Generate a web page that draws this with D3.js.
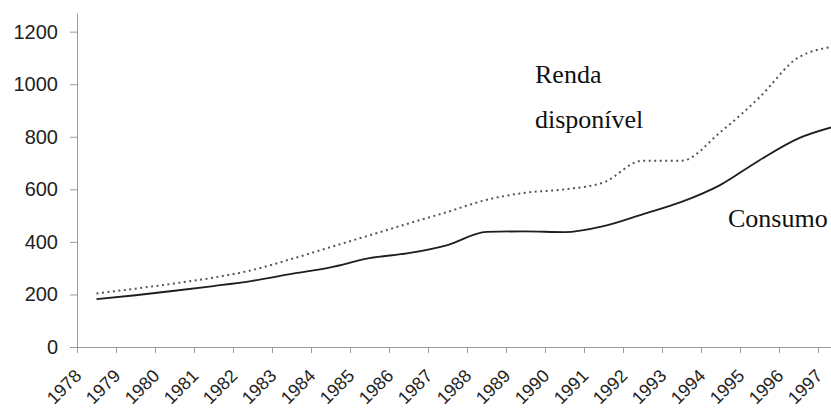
<!DOCTYPE html>
<html>
<head>
<meta charset="utf-8">
<script src="https://cdn.jsdelivr.net/npm/d3@7"></script>
<style>
    body { margin: 0; background: #fff; }
</style>
</head>
<body>
<div id="chart"></div>
<script>
var years =   [1978, 1979, 1980, 1981, 1982, 1983, 1984, 1985, 1986, 1987,
               1988, 1989, 1990, 1991, 1992, 1993, 1994, 1995, 1996, 1997];
var consumo = [182, 197, 214, 232, 252, 278, 303, 338, 357, 388,
               438, 440, 437, 460, 505, 552, 617, 711, 794, 842];
var renda =   [204, 222, 242, 264, 293, 335, 380, 425, 470, 514,
               560, 587, 600, 626, 709, 709, 818, 950, 1102, 1145];
var yTicks =  [0, 200, 400, 600, 800, 1000, 1200];

var Chart = function(config) {
    this.width = config.width;
    this.height = config.height;
    this.margin = { left: 77, right: 0, top: 13, bottom: 61 };
    this.createSVG(config.container);
    this.createScales();
    this.createAxes();
    this.createLines();
    this.createLabels();
}

Chart.prototype.createSVG = function(container) {
    this.svg = d3.select(container).append('svg')
        .attr('width', this.width)
        .attr('height', this.height);
}

Chart.prototype.createScales = function() {
    // category slots are one year wide, points sit in the middle of a slot
    this.x = d3.scaleLinear()
        .domain([1978, 1978 + (this.width - this.margin.left) / 39])
        .range([this.margin.left, this.width]);
    this.y = d3.scaleLinear()
        .domain([0, 1271])
        .range([this.height - this.margin.bottom, this.margin.top]);
}

Chart.prototype.createAxes = function() {
    var axisColor = '#9a9a9a';

    var gy = this.svg.append('g')
        .attr('transform', 'translate(' + this.margin.left + ',0)')
        .call(d3.axisLeft(this.y).tickValues(yTicks).tickFormat(d3.format('d'))
            .tickSize(7).tickSizeOuter(0).tickPadding(12));
    gy.selectAll('line, path').attr('stroke', axisColor);
    gy.selectAll('text')
        .attr('font-family', 'Liberation Sans, Arial, sans-serif')
        .attr('font-size', 20)
        .attr('fill', '#222');

    var gx = this.svg.append('g')
        .attr('transform', 'translate(0,' + this.y(0) + ')')
        .call(d3.axisBottom(this.x).tickValues(years).tickSize(6).tickSizeOuter(0).tickFormat(d3.format('d')));
    gx.selectAll('line, path').attr('stroke', axisColor);
    gx.selectAll('text')
        .attr('font-family', 'Liberation Sans, Arial, sans-serif')
        .attr('font-size', 18)
        .attr('fill', '#222')
        .attr('text-anchor', 'end')
        .attr('dy', 0)
        .attr('y', 0)
        .attr('transform', 'translate(5,30) rotate(-45)');
}

Chart.prototype.createLines = function() {
    var obj = this;
    var line = function(values) {
        return d3.line()
            .curve(d3.curveMonotoneX)
            .x(function(d, i) { return obj.x(years[i] + 0.5); })
            .y(function(d) { return obj.y(d); })(values);
    }

    this.svg.append('path')
        .attr('d', line(renda))
        .attr('fill', 'none')
        .attr('stroke', '#555')
        .attr('stroke-width', 2)
        .attr('stroke-dasharray', '2,3.5');

    this.svg.append('path')
        .attr('d', line(consumo))
        .attr('fill', 'none')
        .attr('stroke', '#1e1e1e')
        .attr('stroke-width', 1.8);
}

Chart.prototype.createLabels = function() {
    var labels = [
        { text: 'Renda', x: 535, y: 83 },
        { text: 'disponível', x: 535, y: 128 },
        { text: 'Consumo', x: 728, y: 227 }
    ];
    this.svg.selectAll('.serieLabel')
        .data(labels)
        .enter()
            .append('text')
            .attr('class', 'serieLabel')
            .attr('x', function(d) { return d.x; })
            .attr('y', function(d) { return d.y; })
            .attr('font-family', 'Liberation Serif, Times New Roman, serif')
            .attr('font-size', 26)
            .attr('fill', '#111')
            .text(function(d) { return d.text; });
}

new Chart({ container: '#chart', width: 831, height: 408 });
</script>
</body>
</html>
